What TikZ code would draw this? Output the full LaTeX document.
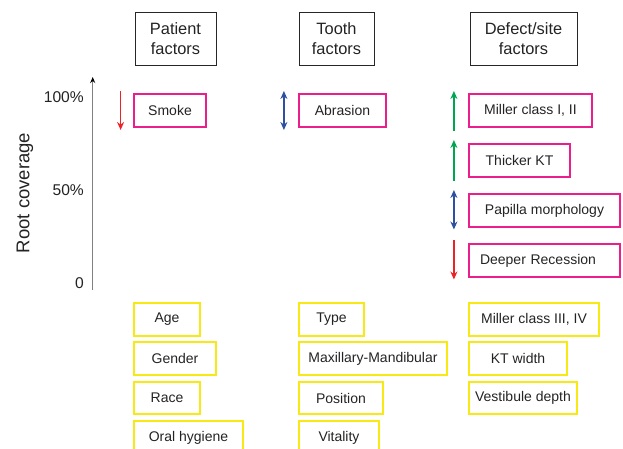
\documentclass[tikz,border=0pt]{standalone}
\usepackage{fontspec}
\setmainfont{Liberation Sans}
\usetikzlibrary{arrows.meta,calc}
\definecolor{pinkc}{RGB}{234,30,140}
\definecolor{yellowc}{RGB}{248,232,20}
\definecolor{redc}{RGB}{235,35,40}
\definecolor{bluec}{RGB}{45,80,160}
\definecolor{greenc}{RGB}{0,165,80}
\definecolor{txt}{RGB}{35,35,35}
\begin{document}
\begin{tikzpicture}[x=1pt,y=-1pt,
  every node/.style={text=txt},
  hdr/.style={draw=black!85, line width=0.8pt, minimum height=53pt, inner sep=0pt, align=center, font=\fontsize{16.4}{20}\selectfont},
  pbox/.style={draw=pinkc, line width=2.2pt, minimum height=33pt, inner sep=0pt, font=\fontsize{14}{16}\selectfont},
  ybox/.style={draw=yellowc, line width=2.2pt, minimum height=33pt, inner sep=0pt, font=\fontsize{14}{16}\selectfont},
  tick/.style={anchor=east, inner sep=0pt, font=\fontsize{15.6}{18}\selectfont},
  downarr/.style={draw=redc, line width=1.6pt, -{Stealth[length=8pt,width=7pt]}},
  uparr/.style={draw=greenc, line width=1.6pt, -{Stealth[length=8pt,width=7pt]}},
  bothar/.style={draw=bluec, line width=1.6pt, {Stealth[length=8pt,width=7pt]}-{Stealth[length=8pt,width=7pt]}}
]
\useasboundingbox (0,0) rectangle (623,449);
\clip (0,0) rectangle (623,449);

% headers
\node[hdr, minimum width=81pt] (patient) at (175.5,38.5) {Patient\\factors};
\node[hdr, minimum width=75pt] (tooth) at (336.5,38.5) {Tooth\\factors};
\node[hdr, minimum width=107pt] (defect) at (523.5,38.5) {Defect/site\\factors};

% axis
\coordinate (axbot) at (92.7,290);
\coordinate (axtop) at (92.7,77);
\draw[draw=black!50, line width=1.2pt, -{Stealth[length=6pt,width=5pt,color=black]}] (axbot) -- (axtop);
\node[tick] (t100) at (84,97) {100\%};
\node[tick] (t50) at (84,190) {50\%};
\node[tick] (t0) at (84,283) {0};
\node[rotate=90, font=\fontsize{18.5}{20}\selectfont, inner sep=0pt] (ylab) at (25,193) {Root coverage};

% pink boxes
\node[pbox, minimum width=72pt] (smoke) at (170,110.5) {Smoke};
\node[pbox, minimum width=87pt] (abrasion) at (342.5,110.5) {Abrasion};
\node[pbox, minimum width=123pt] (miller) at (530.5,110.5) {Miller class I, II};
\node[pbox, minimum width=101pt] (thicker) at (519.5,160.5) {Thicker KT};
\node[pbox, minimum width=151pt] (papilla) at (544.5,210.5) {Papilla morphology};
\node[pbox, minimum width=151pt, text width=129pt, align=left] (deeper) at (544.5,260.5) {Deeper Recession};

% arrows
\coordinate (s1) at ($(smoke.west)+(-12.3,-19.5)$);
\coordinate (s2) at ($(smoke.west)+(-12.3,19.5)$);
\draw[downarr] (s1) -- (s2);
\coordinate (a1) at ($(abrasion.west)+(-14,-19.5)$);
\coordinate (a2) at ($(abrasion.west)+(-14,19.5)$);
\draw[bothar] (a1) -- (a2);
\coordinate (m1) at ($(miller.west)+(-14,20.5)$);
\coordinate (m2) at ($(miller.west)+(-14,-19.5)$);
\draw[uparr] (m1) -- (m2);
\coordinate (k1) at ($(thicker.west)+(-14,20)$);
\coordinate (k2) at ($(thicker.west)+(-14,-20.5)$);
\draw[uparr] (k1) -- (k2);
\coordinate (p1) at ($(papilla.west)+(-14,-20.5)$);
\coordinate (p2) at ($(papilla.west)+(-14,19)$);
\draw[bothar] (p1) -- (p2);
\coordinate (d1) at ($(deeper.west)+(-14,-20.5)$);
\coordinate (d2) at ($(deeper.west)+(-14,19)$);
\draw[downarr] (d1) -- (d2);

% yellow boxes
\node[ybox, minimum width=66pt] (age) at (167,319.5) {Age};
\node[ybox, minimum width=82pt] (gender) at (175,358.5) {Gender};
\node[ybox, minimum width=66pt, minimum height=32pt] (race) at (167,398) {Race};
\node[ybox, minimum width=109pt] (oral) at (188.5,437.5) {Oral hygiene};
\node[ybox, minimum width=65pt] (type) at (331.5,319.5) {Type};
\node[ybox, minimum width=148pt] (maxman) at (373,358.5) {Maxillary-Mandibular};
\node[ybox, minimum width=84pt, minimum height=32pt] (position) at (341,398) {Position};
\node[ybox, minimum width=80pt] (vitality) at (339,437.5) {Vitality};
\node[ybox, minimum width=130pt] (miller2) at (534,319.5) {Miller class III, IV};
\node[ybox, minimum width=98pt] (ktwidth) at (518,358.5) {KT width};
\node[ybox, minimum width=108pt, minimum height=32pt] (vestibule) at (523,398) {Vestibule depth};
\end{tikzpicture}
\end{document}
